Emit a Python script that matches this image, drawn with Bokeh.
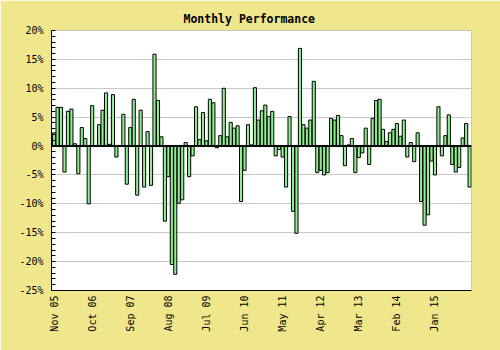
import pandas as pd
from bokeh.plotting import figure
from bokeh.models import ColumnDataSource, FixedTicker, Span, Range1d
from bokeh.embed import file_html
from bokeh.resources import INLINE

# Monthly returns (%) Nov 2005 .. Nov 2015
months = [d.strftime("%b %y") for d in pd.date_range("2005-11-01", periods=121, freq="MS")]
returns = [
    2.3, 6.7, 6.7, -4.5, 6.0, 6.4, 0.4, -4.8, 3.2, 1.3,
    -10.0, 7.0, 0.1, 3.7, 6.2, 9.2, 0.3, 8.9, -1.9, 0.1,
    5.5, -6.6, 3.2, 8.1, -8.5, 6.2, -7.1, 2.5, -6.8, 15.9,
    7.9, 1.6, -13.0, -5.3, -20.5, -22.2, -9.9, -9.3, 0.6, -5.3,
    -1.7, 6.8, 1.1, 5.8, 0.9, 8.1, 7.5, -0.3, 1.8, 10.0,
    1.6, 4.1, 3.1, 3.5, -9.6, -4.2, 3.7, 0.2, 10.1, 4.5,
    6.1, 7.1, 5.1, 6.0, -1.7, -0.6, -1.9, -7.1, 5.1, -11.3,
    -15.1, 16.9, 3.7, 3.1, 4.5, 11.2, -4.6, -4.2, -5.0, -4.6,
    4.8, 4.5, 5.3, 1.8, -3.4, 0.2, 1.3, -4.6, -2.0, -1.2,
    3.1, -3.2, 4.8, 7.9, 8.1, 2.9, 0.8, 2.3, 2.9, 3.9,
    1.7, 4.5, -1.9, 0.6, -2.7, 2.3, -9.6, -13.7, -11.9, -2.6,
    -5.0, 6.8, -1.7, 1.8, 5.4, -3.2, -4.5, -3.7, 1.4, 3.9,
    -7.1,
]
tick_labels = ["Nov 05", "Oct 06", "Sep 07", "Aug 08", "Jul 09", "Jun 10",
               "May 11", "Apr 12", "Mar 13", "Feb 14", "Jan 15"]
y_ticks = [-25, -20, -15, -10, -5, 0, 5, 10, 15, 20]

x = list(range(len(returns)))
src = ColumnDataSource(dict(x=x, top=returns, month=months))

FONT = "DejaVu Sans Mono"
p = figure(width=500, height=350, output_backend="svg", toolbar_location=None,
           x_range=Range1d(-0.75, 120.55), y_range=Range1d(-25, 20),
           title="Monthly Performance",
           min_border_left=51, min_border_right=29, min_border_top=30, min_border_bottom=60)

p.background_fill_color = "white"
p.border_fill_color = "#F0E68C"
p.outline_line_color = "#C8C8C8"

p.title.align = "left"
p.title.offset = 132
p.title.text_font = FONT
p.title.text_font_size = "11.5px"
p.title.text_font_style = "bold"
p.title.text_color = "black"

p.vbar(x="x", top="top", bottom=0, width=0.9, source=src,
       fill_color="#90EE90", line_color="black", line_width=1)

p.add_layout(Span(location=0, dimension="width", line_color="black", line_width=2))

tick_pos = [months.index(l) for l in tick_labels]
p.xaxis.ticker = FixedTicker(ticks=tick_pos)
p.xaxis.major_label_overrides = {t: l for t, l in zip(tick_pos, tick_labels)}
p.xaxis.major_label_orientation = 1.5708
p.xaxis.major_tick_in = 0
p.xaxis.major_tick_out = 0
p.xaxis.minor_tick_in = 0
p.xaxis.minor_tick_out = 0
p.xaxis.major_label_standoff = 5

minor = [v for v in range(-25, 21) if v % 5 != 0]
p.yaxis.ticker = FixedTicker(ticks=y_ticks, minor_ticks=minor)
p.yaxis.major_label_overrides = {t: f"{t}%" for t in y_ticks}
p.yaxis.major_tick_in = 4
p.yaxis.major_tick_out = 0
p.yaxis.minor_tick_in = 4
p.yaxis.minor_tick_out = 0
p.yaxis.major_label_standoff = 8

for ax in (p.xaxis, p.yaxis):
    ax.axis_line_color = "black"
    ax.axis_line_width = 1
    ax.major_tick_line_color = "black"
    ax.minor_tick_line_color = "black"
    ax.major_label_text_font = FONT
    ax.major_label_text_font_size = "10px"
    ax.major_label_text_color = "black"

p.xgrid.grid_line_color = None
p.ygrid.ticker = FixedTicker(ticks=y_ticks)
p.ygrid.grid_line_color = "#C8C8C8"
p.ygrid.grid_line_width = 1

open("out.html", "w").write(file_html(p, INLINE))
